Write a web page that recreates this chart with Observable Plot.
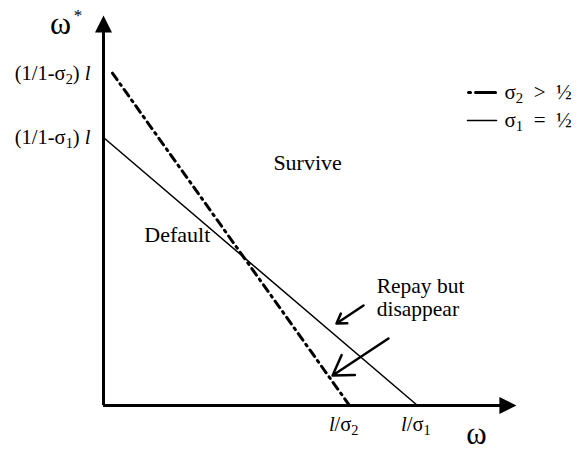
<!DOCTYPE html>
<html><head><meta charset="utf-8">
<script src="https://cdn.jsdelivr.net/npm/d3@7"></script>
<script src="https://cdn.jsdelivr.net/npm/@observablehq/plot@0.6"></script>
<style>body{margin:0;background:#fff}</style></head>
<body><div id="chart"></div>
<script>
// Lines (threshold ω* as a function of ω)
const solidX = [0, 2.0];        // σ1 = ½  : from (1/1-σ1) l down to l/σ1
const solidY = [2.0, 0];
const dashX = [0.057, 1.567];   // σ2 > ½  : from (1/1-σ2) l down to l/σ2
const dashY = [2.48, 0];

// Axes (with arrow tips)
const axisXEnd = 2.55, axisXTip = 2.63;
const axisYEnd = 2.80, axisYTip = 2.91;

// Tick-like labels
const yLabels = [{y: 2.48, t: "(1/1-σ_2) ~l"}, {y: 2.0, t: "(1/1-σ_1) ~l"}];
const xLabels = [{x: 1.53, t: "~l/σ_2"}, {x: 1.99, t: "~l/σ_1"}];

// Region annotations
const regions = [
  {x: 1.30, y: 1.81, t: "Survive"},
  {x: 0.47, y: 1.27, t: "Default"}
];
const noteLines = [
  {x: 1.74, y: 0.89, t: "Repay but"},
  {x: 1.74, y: 0.72, t: "disappear"}
];
const noteArrows = [
  {x1: 1.656, y1: 0.746, x2: 1.484, y2: 0.612},
  {x1: 1.815, y1: 0.500, x2: 1.459, y2: 0.224}
];

// Legend
const legendItems = [
  {x1: 2.325, x2: 2.497, y: 2.336, t: "σ_2\u00a0\u00a0>\u00a0\u00a0½", dash: "2,5,20,5", w: 3},
  {x1: 2.318, x2: 2.503, y: 2.127, t: "σ_1\u00a0\u00a0=\u00a0\u00a0½", dash: null, w: 1.5}
];

const headUp = {draw(ctx, size){ const w = Math.sqrt(size); ctx.moveTo(0,0); ctx.lineTo(-w/2, w); ctx.lineTo(w/2, w); ctx.closePath(); }};
const headRight = {draw(ctx, size){ const w = Math.sqrt(size); ctx.moveTo(0,0); ctx.lineTo(-w, -w/2); ctx.lineTo(-w, w/2); ctx.closePath(); }};

const serif = "Liberation Serif, Times New Roman, serif";
const solid = solidX.map((x, i) => ({x, y: solidY[i]}));
const dash = dashX.map((x, i) => ({x, y: dashY[i]}));

const legendMarks = legendItems.flatMap(d => [
  Plot.line([{x: d.x1, y: d.y}, {x: d.x2, y: d.y}], {x: "x", y: "y", stroke: "black", strokeWidth: d.w, strokeDasharray: d.dash || undefined}),
  Plot.text([d], {x: 2.554, y: "y", text: "t", textAnchor: "start", fontSize: 21, fontFamily: serif, fill: "black"})
]);

const chart = Plot.plot({
  width: 579, height: 451,
  marginLeft: 0, marginRight: 0, marginTop: 0, marginBottom: 0,
  x: {domain: [0, 3], range: [103, 574], axis: null},
  y: {domain: [0, 3], range: [405, 3], axis: null},
  marks: [
    Plot.ruleX([0], {y1: 0, y2: axisYEnd, stroke: "black", strokeWidth: 3}),
    Plot.ruleY([0], {x1: 0, x2: axisXEnd, stroke: "black", strokeWidth: 3}),
    Plot.dot([{x: 0, y: axisYTip}], {x: "x", y: "y", symbol: headUp, r: 9.6, fill: "black", stroke: "none"}),
    Plot.dot([{x: axisXTip, y: 0}], {x: "x", y: "y", symbol: headRight, r: 9.6, fill: "black", stroke: "none"}),
    Plot.line(solid, {x: "x", y: "y", stroke: "black", strokeWidth: 1.5}),
    Plot.line(dash, {x: "x", y: "y", stroke: "black", strokeWidth: 3, strokeDasharray: "8,5,2,5"}),
    Plot.arrow(noteArrows, {x1: "x1", y1: "y1", x2: "x2", y2: "y2", stroke: "black", strokeWidth: 2.5, headLength: 15, headAngle: 65}),
    Plot.text(yLabels, {x: -0.083, y: "y", text: "t", textAnchor: "end", fontSize: 20.5, fontFamily: serif, fill: "black"}),
    Plot.text(xLabels, {x: "x", y: -0.14, text: "t", textAnchor: "middle", fontSize: 20.5, fontFamily: serif, fill: "black"}),
    Plot.text([{x: -0.274, y: 2.85, t: "ω"}], {x: "x", y: "y", text: "t", fontSize: 32, fontFamily: serif, fill: "black"}),
    Plot.text([{x: -0.163, y: 2.91, t: "*"}], {x: "x", y: "y", text: "t", fontSize: 17, fontFamily: serif, fill: "black"}),
    Plot.text([{x: 2.376, y: -0.213, t: "ω"}], {x: "x", y: "y", text: "t", fontSize: 31, fontFamily: serif, fill: "black"}),
    Plot.text(regions, {x: "x", y: "y", text: "t", fontSize: 22, fontFamily: serif, fill: "black"}),
    Plot.text(noteLines, {x: "x", y: "y", text: "t", textAnchor: "start", fontSize: 21.5, fontFamily: serif, fill: "black"}),
    ...legendMarks
  ]
});
document.getElementById("chart").appendChild(chart);

// rich text: _x -> subscript, ~l -> italic l
const NS = "http://www.w3.org/2000/svg";
chart.querySelectorAll("text").forEach(t => {
  if (t.querySelector("tspan")) return;
  const s = t.textContent;
  if (!/[_~]/.test(s)) return;
  const fs = parseFloat(getComputedStyle(t).fontSize) || 16;
  t.textContent = "";
  let buf = "", shift = 0;
  const flush = () => { if (buf) { const sp = document.createElementNS(NS, "tspan"); sp.textContent = buf; if (shift) { sp.setAttribute("dy", -shift); shift = 0; } t.appendChild(sp); buf = ""; } };
  for (let i = 0; i < s.length; i++) {
    const c = s[i];
    if (c === "_" && i + 1 < s.length) {
      flush();
      const sp = document.createElementNS(NS, "tspan");
      sp.textContent = s[++i];
      sp.setAttribute("font-size", fs * 0.7);
      sp.setAttribute("dy", fs * 0.2);
      t.appendChild(sp); shift = fs * 0.2;
    } else if (c === "~" && i + 1 < s.length) {
      flush();
      const sp = document.createElementNS(NS, "tspan");
      sp.textContent = s[++i];
      sp.setAttribute("font-style", "italic");
      if (shift) { sp.setAttribute("dy", -shift); shift = 0; }
      t.appendChild(sp);
    } else buf += c;
  }
  flush();
});
</script>
</body></html>
